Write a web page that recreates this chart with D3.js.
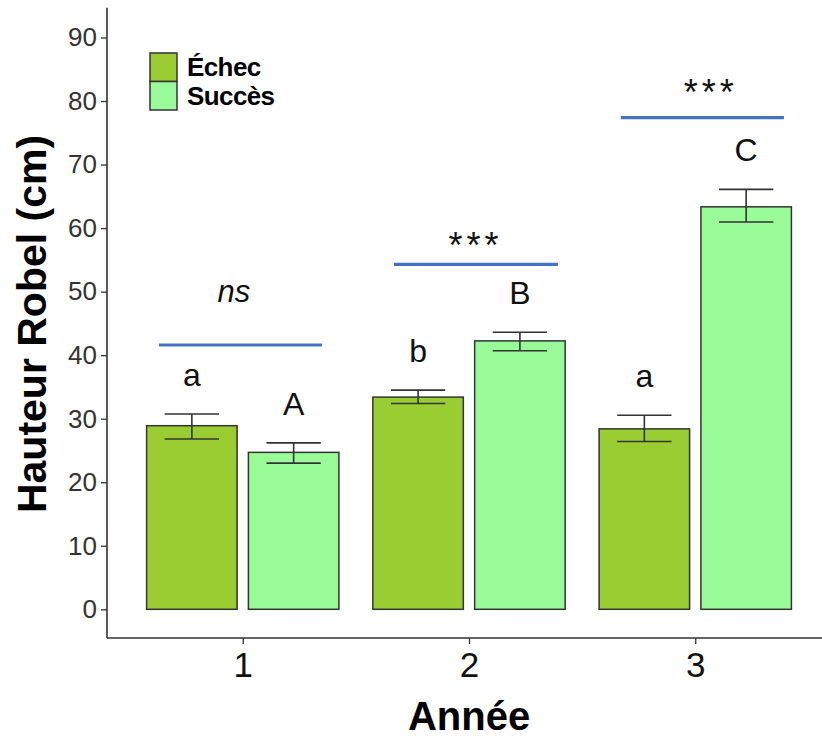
<!DOCTYPE html>
<html>
<head>
<meta charset="utf-8">
<script src="https://cdn.jsdelivr.net/npm/d3@7"></script>
<style>
  html, body { margin: 0; padding: 0; background: #fff; }
  svg { display: block; }
</style>
</head>
<body>
<svg id="chart" width="822" height="739"></svg>
<script>
// ---- data ----
const years = ["1", "2", "3"];
const groups = ["Échec", "Succès"];
const echecMean = [28.9, 33.4, 28.4];
const echecLow = [26.8, 32.4, 26.4];
const echecHigh = [30.75, 34.5, 30.55];
const succesMean = [24.7, 42.25, 63.35];
const succesLow = [23.0, 40.7, 60.95];
const succesHigh = [26.2, 43.6, 66.1];
const echecLetters = ["a", "b", "a"];
const succesLetters = ["A", "B", "C"];
const sigLabels = ["ns", "***", "***"];
const sigLineY = [41.6, 54.3, 77.4];
const sigLineX0 = [0.63, 1.668, 2.671];
const sigLineX1 = [1.35, 2.393, 3.392];
const sigTextX = [0.961, 2.02, 3.06];
const sigTextY = [48.4, 55.3, 79.3];
const yTicks = [0, 10, 20, 30, 40, 50, 60, 70, 80, 90];

const colors = { "Échec": "#9ACD32", "Succès": "#98FB98" };
const ink = "#333333";

const svg = d3.select("#chart");
const x = d3.scaleLinear().domain([0.4, 3.6]).range([107, 831]);
const y = d3.scaleLinear().domain([0, 90]).range([609.3, 37.5]);
const yMin = -4.52, yMax = 94.7;
const dodge = 0.225, barW = 0.4;

const rows = [];
years.forEach((yr, i) => {
  rows.push({ g: "Échec", i, xc: i + 1 - dodge, m: echecMean[i], lo: echecLow[i], hi: echecHigh[i], lab: echecLetters[i] });
  rows.push({ g: "Succès", i, xc: i + 1 + dodge, m: succesMean[i], lo: succesLow[i], hi: succesHigh[i], lab: succesLetters[i] });
});

// bars
svg.append("g").selectAll("rect").data(rows).join("rect")
  .attr("x", d => x(d.xc - barW / 2))
  .attr("width", d => x(d.xc + barW / 2) - x(d.xc - barW / 2))
  .attr("y", d => y(d.m))
  .attr("height", d => y(0) - y(d.m))
  .attr("fill", d => colors[d.g])
  .attr("stroke", ink).attr("stroke-width", 1.5);

// error bars
const capW = barW * 0.6;
const eb = svg.append("g").attr("stroke", ink).attr("stroke-width", 1.6).attr("fill", "none");
rows.forEach(d => {
  eb.append("line").attr("x1", x(d.xc)).attr("x2", x(d.xc)).attr("y1", y(d.lo)).attr("y2", y(d.hi));
  eb.append("line").attr("x1", x(d.xc - capW / 2)).attr("x2", x(d.xc + capW / 2)).attr("y1", y(d.lo)).attr("y2", y(d.lo));
  eb.append("line").attr("x1", x(d.xc - capW / 2)).attr("x2", x(d.xc + capW / 2)).attr("y1", y(d.hi)).attr("y2", y(d.hi));
});

// letters
svg.append("g").selectAll("text").data(rows).join("text")
  .attr("x", d => x(d.xc))
  .attr("y", d => y(d.hi) - 28)
  .attr("text-anchor", "middle")
  .attr("font-family", "Liberation Sans, Arial, sans-serif")
  .attr("font-size", 32)
  .attr("fill", "#111")
  .text(d => d.lab);

// significance lines
sigLabels.forEach((s, i) => {
  svg.append("line")
    .attr("x1", x(sigLineX0[i])).attr("x2", x(sigLineX1[i]))
    .attr("y1", y(sigLineY[i])).attr("y2", y(sigLineY[i]))
    .attr("stroke", "#4472C4").attr("stroke-width", 3.2);
  const isNs = s === "ns";
  svg.append("text")
    .attr("x", x(sigTextX[i]) + (isNs ? 0 : 2))
    .attr("y", y(sigTextY[i]))
    .attr("text-anchor", "middle")
    .attr("font-family", "Liberation Sans, Arial, sans-serif")
    .attr("font-style", isNs ? "italic" : "normal")
    .attr("font-size", isNs ? 31 : 36)
    .attr("letter-spacing", isNs ? 0 : 4)
    .attr("fill", "#111")
    .text(s);
});

// axes
const yAxis = svg.append("g").attr("transform", `translate(${x(0.4)},0)`)
  .call(d3.axisLeft(y).tickValues(yTicks).tickSize(6).tickPadding(4));
yAxis.select(".domain").remove();
yAxis.selectAll(".tick line").attr("stroke", ink).attr("stroke-width", 1.3);
yAxis.selectAll(".tick text")
  .attr("font-family", "Liberation Sans, Arial, sans-serif")
  .attr("font-size", 26).attr("fill", "#333");

const xAxis = svg.append("g").attr("transform", `translate(0,${y(yMin)})`)
  .call(d3.axisBottom(x).tickValues([1, 2, 3]).tickFormat((d, i) => years[i]).tickSize(6).tickPadding(8));
xAxis.select(".domain").remove();
xAxis.selectAll(".tick line").attr("stroke", ink).attr("stroke-width", 1.3);
xAxis.selectAll(".tick text")
  .attr("font-family", "Liberation Sans, Arial, sans-serif")
  .attr("font-size", 35).attr("fill", "#111");

// axis lines
svg.append("line").attr("x1", x(0.4)).attr("x2", x(0.4)).attr("y1", y(yMax)).attr("y2", y(yMin))
  .attr("stroke", ink).attr("stroke-width", 1.6);
svg.append("line").attr("x1", x(0.4)).attr("x2", x(3.6)).attr("y1", y(yMin)).attr("y2", y(yMin))
  .attr("stroke", ink).attr("stroke-width", 1.6);

// axis titles
svg.append("text")
  .attr("transform", "translate(46,324) rotate(-90)")
  .attr("text-anchor", "middle")
  .attr("font-family", "Liberation Sans, Arial, sans-serif")
  .attr("font-weight", "bold").attr("font-size", 41).attr("fill", "#000")
  .text("Hauteur Robel (cm)");
svg.append("text")
  .attr("x", x(2)).attr("y", 730)
  .attr("text-anchor", "middle")
  .attr("font-family", "Liberation Sans, Arial, sans-serif")
  .attr("font-weight", "bold").attr("font-size", 40).attr("fill", "#000")
  .text("Année");

// legend
const leg = svg.append("g").attr("transform", "translate(150,53)");
groups.forEach((g, i) => {
  leg.append("rect").attr("x", 0).attr("y", i * 28.5).attr("width", 27).attr("height", 28.5)
    .attr("fill", colors[g]).attr("stroke", ink).attr("stroke-width", 1.5);
  leg.append("text").attr("x", 37).attr("y", i * 28.5 + 23)
    .attr("font-family", "Liberation Sans, Arial, sans-serif")
    .attr("font-weight", "bold").attr("font-size", 26).attr("fill", "#000")
    .attr("letter-spacing", -0.6)
    .text(g);
});
</script>
</body>
</html>
